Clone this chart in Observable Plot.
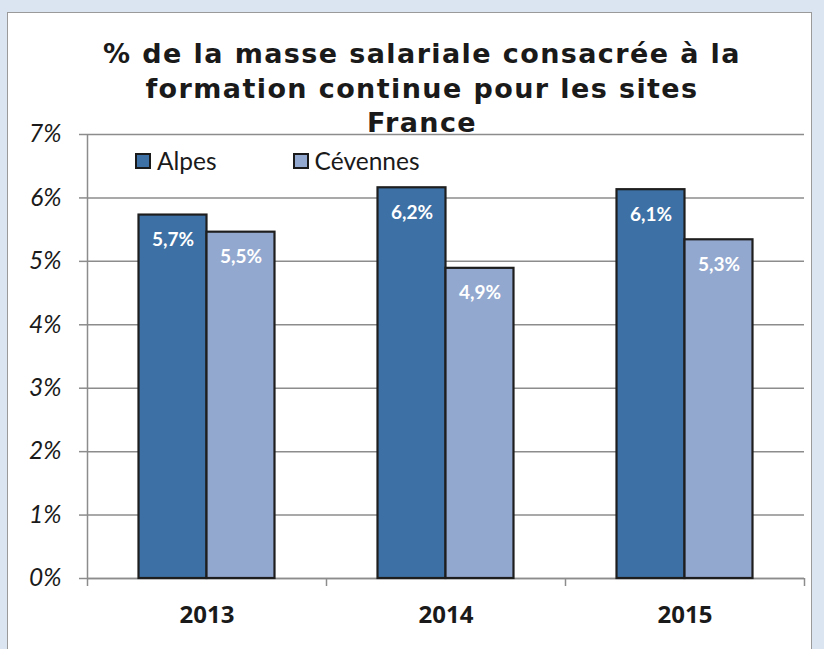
<!DOCTYPE html>
<html>
<head>
<meta charset="utf-8">
<script src="https://cdn.jsdelivr.net/npm/d3@7"></script>
<script src="https://cdn.jsdelivr.net/npm/@observablehq/plot@0.6"></script>
<style>
  html, body { margin: 0; padding: 0; background: #dbe5f1; width: 824px; height: 649px; overflow: hidden; }
  #panel { position: absolute; left: 7px; top: 12px; width: 803px; height: 660px; background: #fff; border: 1.5px solid #9a9a9a; border-bottom: none; }
  #title { position: absolute; left: 0; top: 37px; width: 844px; text-align: center; font: bold 27px "DejaVu Sans"; letter-spacing: 1.4px; line-height: 34.5px; color: #1a1a1a; }
  #chart { position: absolute; left: 0; top: 0; }
  #legend { position: absolute; left: 135px; top: 146px; font: 24.5px Lato; color: #1a1a1a; display: flex; }
  .item { display: flex; align-items: center; }
  .sw { width: 12px; height: 12px; border: 2px solid #1a1a1a; margin-right: 6px; }
</style>
</head>
<body>
<div id="panel"></div>
<div id="chart"></div>
<div id="title">% de la masse salariale consacrée à la<br>formation continue pour les sites<br>France</div>
<div id="legend"></div>
<script>
const years = [2013, 2014, 2015];
const series = ["Alpes", "Cévennes"];
const alpes = [5.73, 6.16, 6.13];
const cevennes = [5.46, 4.89, 5.34];
const yTicks = [0, 1, 2, 3, 4, 5, 6, 7];
const colors = ["#3d70a5", "#93a8cf"];

const values = { "Alpes": alpes, "Cévennes": cevennes };
const barW = 0.2845;
const rows = years.flatMap((yr, i) => series.map((s, j) => ({
  year: yr, series: s, value: values[s][i],
  x1: j === 0 ? yr - barW : yr,
  x2: j === 0 ? yr : yr + barW
})));
const boundaries = [...years.map(y => y - 0.5), years[years.length - 1] + 0.5];
const fr = d3.formatLocale({decimal: ",", thousands: " ", grouping: [3], currency: ["", "€"]});
const fmt = fr.format(".1f");

const plot = Plot.plot({
  width: 824,
  height: 649,
  marginLeft: 87,
  marginRight: 20,
  marginTop: 134,
  marginBottom: 71,
  style: { background: "transparent", overflow: "visible" },
  x: { type: "linear", domain: [boundaries[0], boundaries[boundaries.length - 1]] },
  y: { domain: [0, 7] },
  color: { domain: series, range: colors },
  marks: [
    Plot.gridY(yTicks, { stroke: "#8c8c8c", strokeOpacity: 1, strokeWidth: 1.5 }),
    Plot.ruleX([boundaries[0]], { y1: 0, y2: 7, stroke: "#8c8c8c", strokeWidth: 1.5 }),
    Plot.axisY({ ticks: yTicks, tickFormat: d => d + "%", tickSize: 8, tickPadding: 18, stroke: "#8c8c8c", strokeWidth: 1.5, label: null,
      fontSize: 24.5, fontFamily: "Lato", fontStyle: "italic", fill: "#1a1a1a" }),
    Plot.axisX({ ticks: boundaries, tickFormat: () => "", tickSize: 8, stroke: "#8c8c8c", strokeWidth: 1.5, label: null }),
    Plot.axisX({ ticks: years, tickFormat: d => String(d), tickSize: 0, tickPadding: 27, label: null,
      fontSize: 24, fontFamily: "Open Sans", fontWeight: "bold", fill: "#1a1a1a" }),
    Plot.ruleY([0], { stroke: "#8c8c8c", strokeWidth: 1.5 }),
    Plot.rectY(rows, { x1: "x1", x2: "x2", y: "value", fill: "series", stroke: "#1e1e1e", strokeWidth: 2.2 }),
    Plot.text(rows, { x: d => (d.x1 + d.x2) / 2, y: "value", text: d => fmt(d.value) + "%", dy: 25,
      fill: "white", fontSize: 19, fontWeight: "bold", fontFamily: "Lato" })
  ]
});
document.getElementById("chart").appendChild(plot);

const legend = document.getElementById("legend");
series.forEach((s, i) => {
  const it = document.createElement("div");
  it.className = "item";
  it.style.marginRight = i === 0 ? "76px" : "0";
  const sw = document.createElement("div");
  sw.className = "sw";
  sw.style.background = colors[i];
  it.appendChild(sw);
  const t = document.createElement("span");
  t.textContent = s;
  it.appendChild(t);
  legend.appendChild(it);
});
</script>
</body>
</html>
